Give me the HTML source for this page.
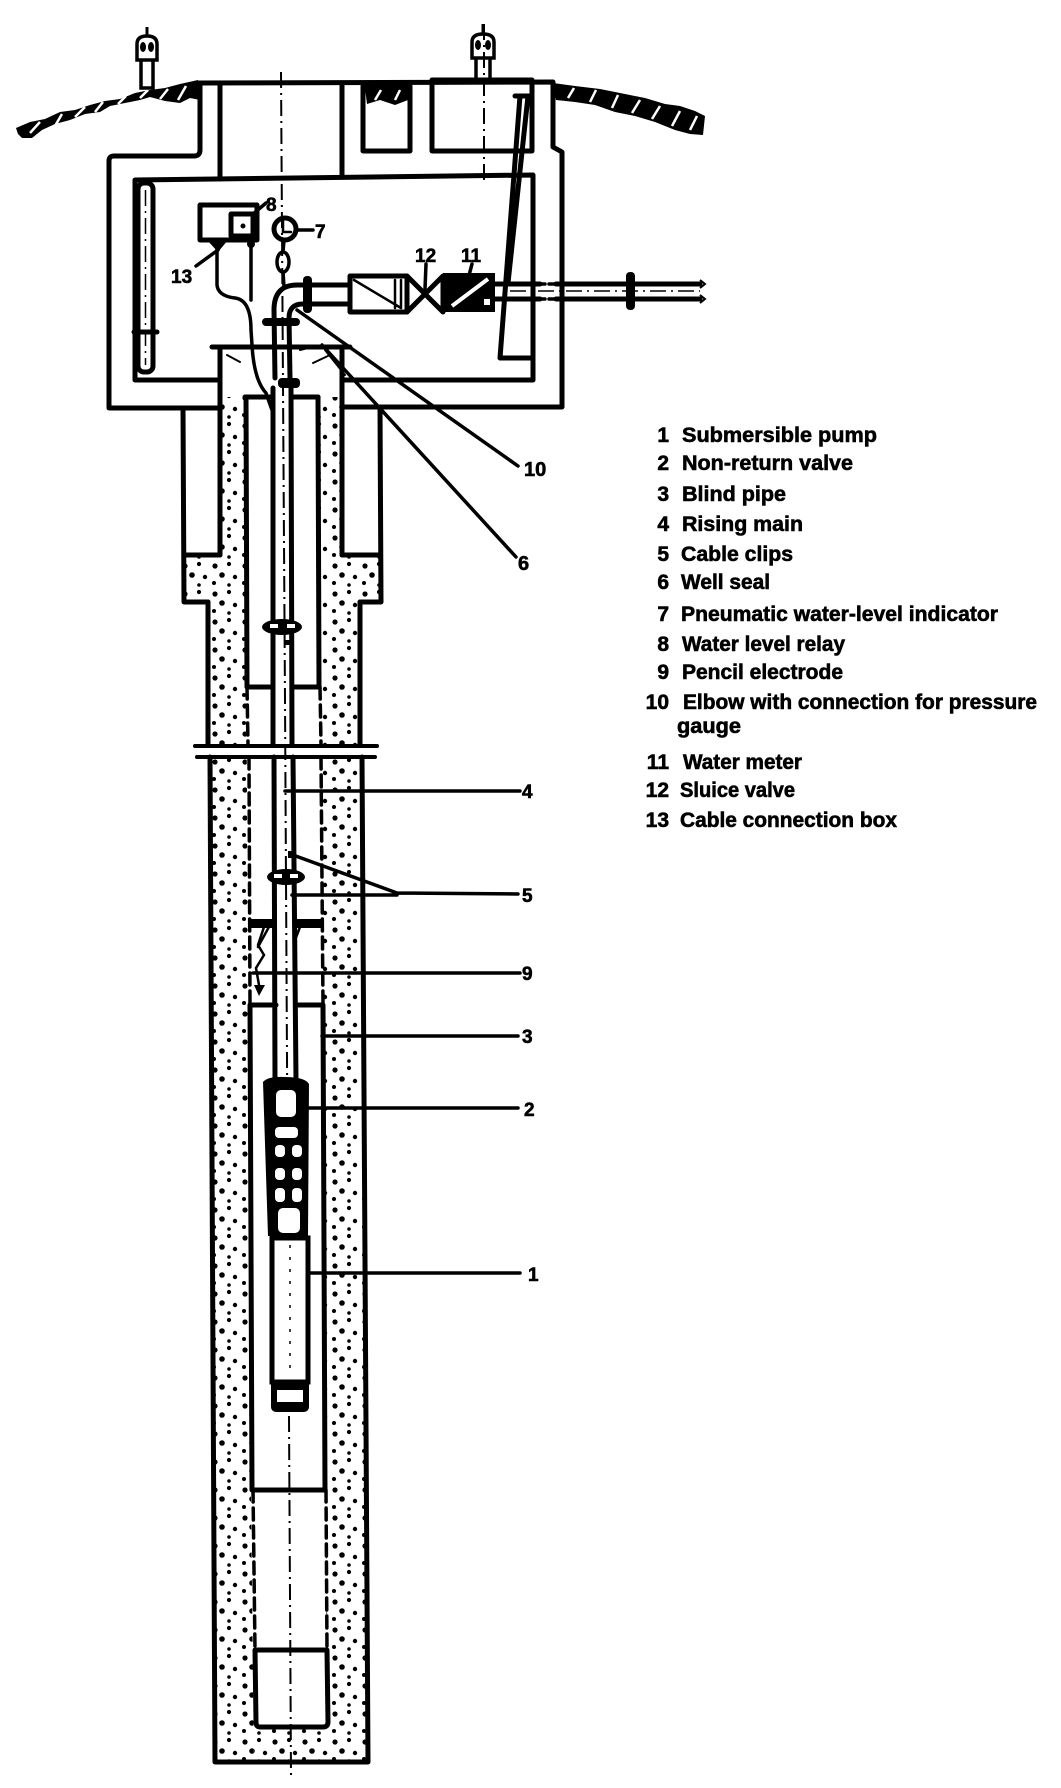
<!DOCTYPE html>
<html><head><meta charset="utf-8"><style>
html,body{margin:0;padding:0;background:#fff;}
svg{display:block;}
text{font-family:"Liberation Sans",Arial,sans-serif;font-weight:bold;fill:#000;stroke:#000;stroke-width:0.6;}
</style></head><body>
<svg width="1061" height="1788" viewBox="0 0 1061 1788" xmlns="http://www.w3.org/2000/svg">
<defs>
<pattern id="d" width="30" height="28" patternUnits="userSpaceOnUse">
<circle cx="5" cy="6" r="2.6"/><circle cx="19" cy="4" r="2.1"/><circle cx="12" cy="15" r="2.8"/><circle cx="25" cy="17" r="2.2"/><circle cx="4" cy="23" r="2"/><circle cx="19" cy="25" r="1.8"/>
</pattern>
</defs>
<rect width="1061" height="1788" fill="#fff"/>

<!-- dotted fills -->
<g fill="url(#d)">
<rect x="222" y="397" width="23" height="158"/>
<rect x="319" y="397" width="22" height="158"/>
<rect x="185" y="555" width="61" height="47"/>
<rect x="319" y="555" width="61" height="47"/>
<polygon points="208,602 246,602 248,1000 251,1500 254,1762 215,1762"/>
<polygon points="320,602 360,602 367,1762 327,1762 326,1500 323,1000"/>
<rect x="254" y="1727" width="74" height="35"/>
</g>
<rect x="190" y="747" width="190" height="9" fill="#fff"/>

<!-- ground -->
<g fill="#000">
<polygon points="16,128 30,122 45,119 60,112 75,110 90,105 105,101 120,99 135,93 150,90 165,88 180,84 198,80 200,100 190,98 180,103 165,101 150,97 140,100 125,103 110,106 100,112 85,114 70,120 55,124 42,130 32,138 22,138 18,134"/>
<polygon points="553,83 575,86 600,89 625,94 645,98 665,104 680,106 695,111 705,116 703,135 690,134 675,130 655,122 635,116 615,112 595,105 575,102 556,100"/>
<polygon points="365,88 408,88 408,100 395,105 380,100 367,104"/>
</g>
<g stroke="#fff" stroke-width="2.5" fill="none">
<path d="M30,133 L40,122 M55,126 L62,114 M75,117 L85,107 M95,112 L103,102 M118,104 L126,96 M140,98 L148,90 M160,99 L168,89 M178,100 L186,86"/>
<path d="M568,98 L574,88 M590,102 L596,90 M612,108 L618,95 M632,113 L640,100 M652,119 L660,106 M672,126 L680,111 M690,130 L697,116"/>
<path d="M375,100 L381,90 M395,100 L400,90"/>
</g>

<!-- marker posts -->
<g stroke="#000" stroke-width="3.5" fill="#fff">
<rect x="141" y="58" width="12" height="30"/>
<path d="M137,60 L137,44 Q137,36 147,36 Q157,36 157,44 L157,60 Z"/>
<rect x="476" y="56" width="14" height="24"/>
<path d="M472,58 L472,42 Q472,34 483,34 Q494,34 494,42 L494,58 Z"/>
</g>
<g fill="#000">
<ellipse cx="143" cy="47" rx="3" ry="5"/><ellipse cx="151" cy="47" rx="3" ry="5"/>
<ellipse cx="478" cy="45" rx="3" ry="5"/><ellipse cx="488" cy="45" rx="3" ry="5"/>
</g>
<g stroke="#000" stroke-width="3"><path d="M147,27 L147,37 M483,24 L483,35"/></g>

<!-- main structure -->
<g fill="none" stroke="#000" stroke-width="5" stroke-linejoin="round" stroke-linecap="round">
<path d="M200,84 L200,150 Q200,156 194,156 L114,156 Q109,156 109,161 L109,408 L220,408"/>
<path d="M198,83 L553,82 L553,147 L562,152 L562,407 L342,407"/>
<path d="M218,380 L135,380 L135,180 L533,175 L533,380 L342,380"/>
<path d="M220,84 L220,179 M342,83 L342,177"/>
<rect x="363" y="86" width="47" height="65"/>
<rect x="432" y="80" width="100" height="71"/>
<path d="M520,96 L500,358 L533,358 M528,96 L508,283 M515,96 L530,96"/>
<!-- left pipe in chamber -->
<rect x="138" y="183" width="15" height="189" rx="6" fill="#fff"/>
<path d="M134,332 L157,332"/>
<!-- well housing -->
<path d="M212,347 L350,347 M220,347 L220,555 M342,347 L342,555"/>
<path d="M185,555 L220,555 M342,555 L380,555"/>
<path d="M183,408 L184,602 L208,602 M380,407 L381,602 L360,602"/>
<!-- casing -->
<path d="M245,397 L270,397 M292,397 L318,397"/>
<path d="M246,397 L247,687 L272,687 M318,397 L319,687 L294,687"/>
<!-- rising main -->
<path d="M273,388 L273,745 M274,757 L275,1080 M291,388 L292,745 M293,757 L296,1080"/>
<!-- borehole -->
<path d="M208,602 L208,745 M210,757 L215,1762 L368,1762 L362,757 M360,602 L360,745"/>
<!-- blind pipe -->
<path d="M250,1005 L276,1005 M297,1005 L323,1005 M250,1005 L252,1490 L325,1490 L323,1005"/>
<!-- sump -->
<path d="M255,1650 L327,1650 L328,1722 Q328,1727 323,1727 L260,1727 Q256,1727 256,1722 Z"/>
<!-- elbow -->
<path d="M303,285 L297,285 Q274,285 274,310 L275,378 M303,304 Q289,304 289,318 L290,378"/>
<!-- horizontal pipe in chamber -->
<path d="M303,285 L350,285 M303,304 L350,304"/>
<rect x="350" y="276" width="57" height="36"/>
<path d="M407,276 L425,294 L407,312 Z M443,276 L425,294 L443,312 Z"/>
<path d="M495,284 L540,284 M495,299 L540,299 M556,284 L700,284 M556,299 L700,299"/>
<!-- relay box -->
<rect x="200" y="205" width="57" height="35"/>
<rect x="231" y="214" width="22" height="22"/>
<circle cx="285" cy="229" r="11"/>
</g>
<g fill="none" stroke="#000" stroke-width="3.5" stroke-linecap="round">
<path d="M247,687 L248,745 M249,757 L250,1005 M320,687 L321,745 M321,757 L323,1005 M253,1490 L255,1650 M326,1490 L327,1650" stroke-dasharray="12 6"/>
<path d="M195,746 L377,746 M197,757 L375,757" stroke-width="4"/>
<path d="M540,284 L556,284 M540,299 L556,299" stroke-dasharray="5 4"/>
<path d="M354,280 L401,308 M395,280 L395,308 M401,280 L401,308" stroke-width="2.5"/>
<!-- gauge -->
<path d="M283,220 L283,232 L291,232" stroke-width="2.5"/>
<path d="M297,230 L313,230"/>
<path d="M284,240 L283,252 M283,272 L284,287"/>
<ellipse cx="283" cy="262" rx="6" ry="10"/>
<!-- cables -->
<path d="M217,248 L217,285 Q218,296 235,298 Q251,300 251,330 L252,345 Q254,380 266,393 L272,410"/>
<path d="M251,246 L251,300"/>
<!-- leaders -->
<path d="M253,214 L266,203 M196,266 L218,250 M426,264 L425,289 M472,264 L467,283"/>
<path d="M297,310 L518,466"/>
<path d="M322,345 L516,557"/>
<path d="M285,791 L520,791"/>
<path d="M293,855 L397,893 L518,894 M292,895 L397,895"/>
<path d="M253,973 L520,973"/>
<path d="M322,1036 L518,1036"/>
<path d="M293,1108 L518,1108"/>
<path d="M296,1273 L520,1273"/>
<!-- seal lines -->
<path d="M227,355 L240,362 M313,363 L330,355 M325,350 L345,375 M300,350 L312,347" stroke-width="2"/>
<!-- electrode -->
<path d="M264,927 L258,945 L264,955 L256,968 L259,985" stroke-width="2.5"/>
<path d="M270,925 L258,947 M300,927 L295,940" stroke-width="2.5"/>
</g>
<!-- centerlines -->
<g fill="none" stroke="#000" stroke-width="2" stroke-dasharray="16 5 2 5">
<polyline points="281,72 285,700 291,1775"/>
<path d="M484,24 L484,183"/>
<path d="M145.5,190 L145.5,365" stroke-width="1.5"/>
<path d="M510,291 L700,291" stroke-width="1.5"/>
</g>

<!-- black solid elements -->
<g fill="#000">
<rect x="303" y="276" width="9" height="37" rx="4"/>
<rect x="262" y="318" width="38" height="8" rx="4"/>
<rect x="278" y="378" width="22" height="10" rx="4"/>
<rect x="626" y="272" width="9" height="38" rx="4"/>
<rect x="443" y="273" width="52" height="39"/>
<path d="M207,240 L228,240 L218,252 Z"/>
<circle cx="251" cy="244" r="4"/>
<circle cx="243" cy="226" r="2.5"/>
<ellipse cx="282" cy="627" rx="20" ry="8"/>
<ellipse cx="286" cy="877" rx="19" ry="8"/>
<rect x="284" y="640" width="10" height="5"/>
<rect x="288" y="851" width="8" height="7"/>
<path d="M248,919 L273,919 L273,928 L248,928 Z M295,919 L323,919 L323,928 L295,928 Z"/>
<path d="M254,985 L265,985 L259,996 Z"/>
<!-- pump -->
<path d="M263,1082 Q268,1076 285,1077 Q305,1077 309,1084 L308,1236 L268,1236 Z"/>
<rect x="271" y="1380" width="38" height="32" rx="5"/>
</g>
<g fill="#fff">
<rect x="276" y="1090" width="20" height="27" rx="5"/>
<rect x="275" y="1127" width="23" height="11" rx="4"/>
<rect x="275" y="1145" width="10" height="12" rx="4"/><rect x="292" y="1145" width="10" height="12" rx="4"/>
<rect x="275" y="1168" width="10" height="12" rx="4"/><rect x="292" y="1168" width="10" height="12" rx="4"/>
<rect x="275" y="1188" width="10" height="14" rx="4"/><rect x="292" y="1188" width="10" height="14" rx="4"/>
<rect x="278" y="1208" width="22" height="25" rx="5"/>
<rect x="277" y="1390" width="26" height="12"/>
<rect x="270" y="624" width="8" height="4"/><rect x="287" y="624" width="8" height="4"/>
<rect x="274" y="874" width="8" height="4"/><rect x="290" y="874" width="8" height="4"/>
</g>
<path d="M452,306 L488,279" stroke="#fff" stroke-width="4"/>
<rect x="484" y="299" width="6" height="6" fill="#fff"/>
<rect x="272" y="1238" width="36" height="144" fill="#fff" stroke="#000" stroke-width="5"/>
<path d="M290,1245 L290,1375" stroke="#000" stroke-width="1.5" stroke-dasharray="3 9"/>
<path d="M700,280 L705,284 L700,288 M700,295 L705,299 L700,303" fill="none" stroke="#000" stroke-width="2"/>

<!-- diagram labels -->
<g font-size="19">
<text x="266" y="211">8</text>
<text x="315" y="238">7</text>
<text x="171" y="283">13</text>
<text x="415" y="262">12</text>
<text x="461" y="262">11</text>
<text x="524" y="476" font-size="20">10</text>
<text x="518" y="570" font-size="20">6</text>
<text x="522" y="798">4</text>
<text x="522" y="902">5</text>
<text x="522" y="980">9</text>
<text x="522" y="1043">3</text>
<text x="524" y="1116">2</text>
<text x="528" y="1281">1</text>
</g>

<!-- legend -->
<g font-size="21">
<text x="669" y="442" text-anchor="end">1</text>
<text x="682" y="442" textLength="195" lengthAdjust="spacingAndGlyphs">Submersible pump</text>
<text x="669" y="470" text-anchor="end">2</text>
<text x="682" y="470" textLength="171" lengthAdjust="spacingAndGlyphs">Non-return valve</text>
<text x="669" y="501" text-anchor="end">3</text>
<text x="682" y="501" textLength="104" lengthAdjust="spacingAndGlyphs">Blind pipe</text>
<text x="669" y="531" text-anchor="end">4</text>
<text x="682" y="531" textLength="121" lengthAdjust="spacingAndGlyphs">Rising main</text>
<text x="669" y="561" text-anchor="end">5</text>
<text x="681" y="561" textLength="112" lengthAdjust="spacingAndGlyphs">Cable clips</text>
<text x="669" y="589" text-anchor="end">6</text>
<text x="681" y="589" textLength="89" lengthAdjust="spacingAndGlyphs">Well seal</text>
<text x="669" y="621" text-anchor="end">7</text>
<text x="681" y="621" textLength="317" lengthAdjust="spacingAndGlyphs">Pneumatic water-level indicator</text>
<text x="669" y="651" text-anchor="end">8</text>
<text x="682" y="651" textLength="163" lengthAdjust="spacingAndGlyphs">Water level relay</text>
<text x="669" y="679" text-anchor="end">9</text>
<text x="682" y="679" textLength="161" lengthAdjust="spacingAndGlyphs">Pencil electrode</text>
<text x="669" y="709" text-anchor="end">10</text>
<text x="683" y="709" textLength="354" lengthAdjust="spacingAndGlyphs">Elbow with connection for pressure</text>
<text x="677" y="733" textLength="64" lengthAdjust="spacingAndGlyphs">gauge</text>
<text x="669" y="769" text-anchor="end">11</text>
<text x="683" y="769" textLength="119" lengthAdjust="spacingAndGlyphs">Water meter</text>
<text x="669" y="797" text-anchor="end">12</text>
<text x="680" y="797" textLength="115" lengthAdjust="spacingAndGlyphs">Sluice valve</text>
<text x="669" y="827" text-anchor="end">13</text>
<text x="680" y="827" textLength="217" lengthAdjust="spacingAndGlyphs">Cable connection box</text>
</g>
</svg>
</body></html>
